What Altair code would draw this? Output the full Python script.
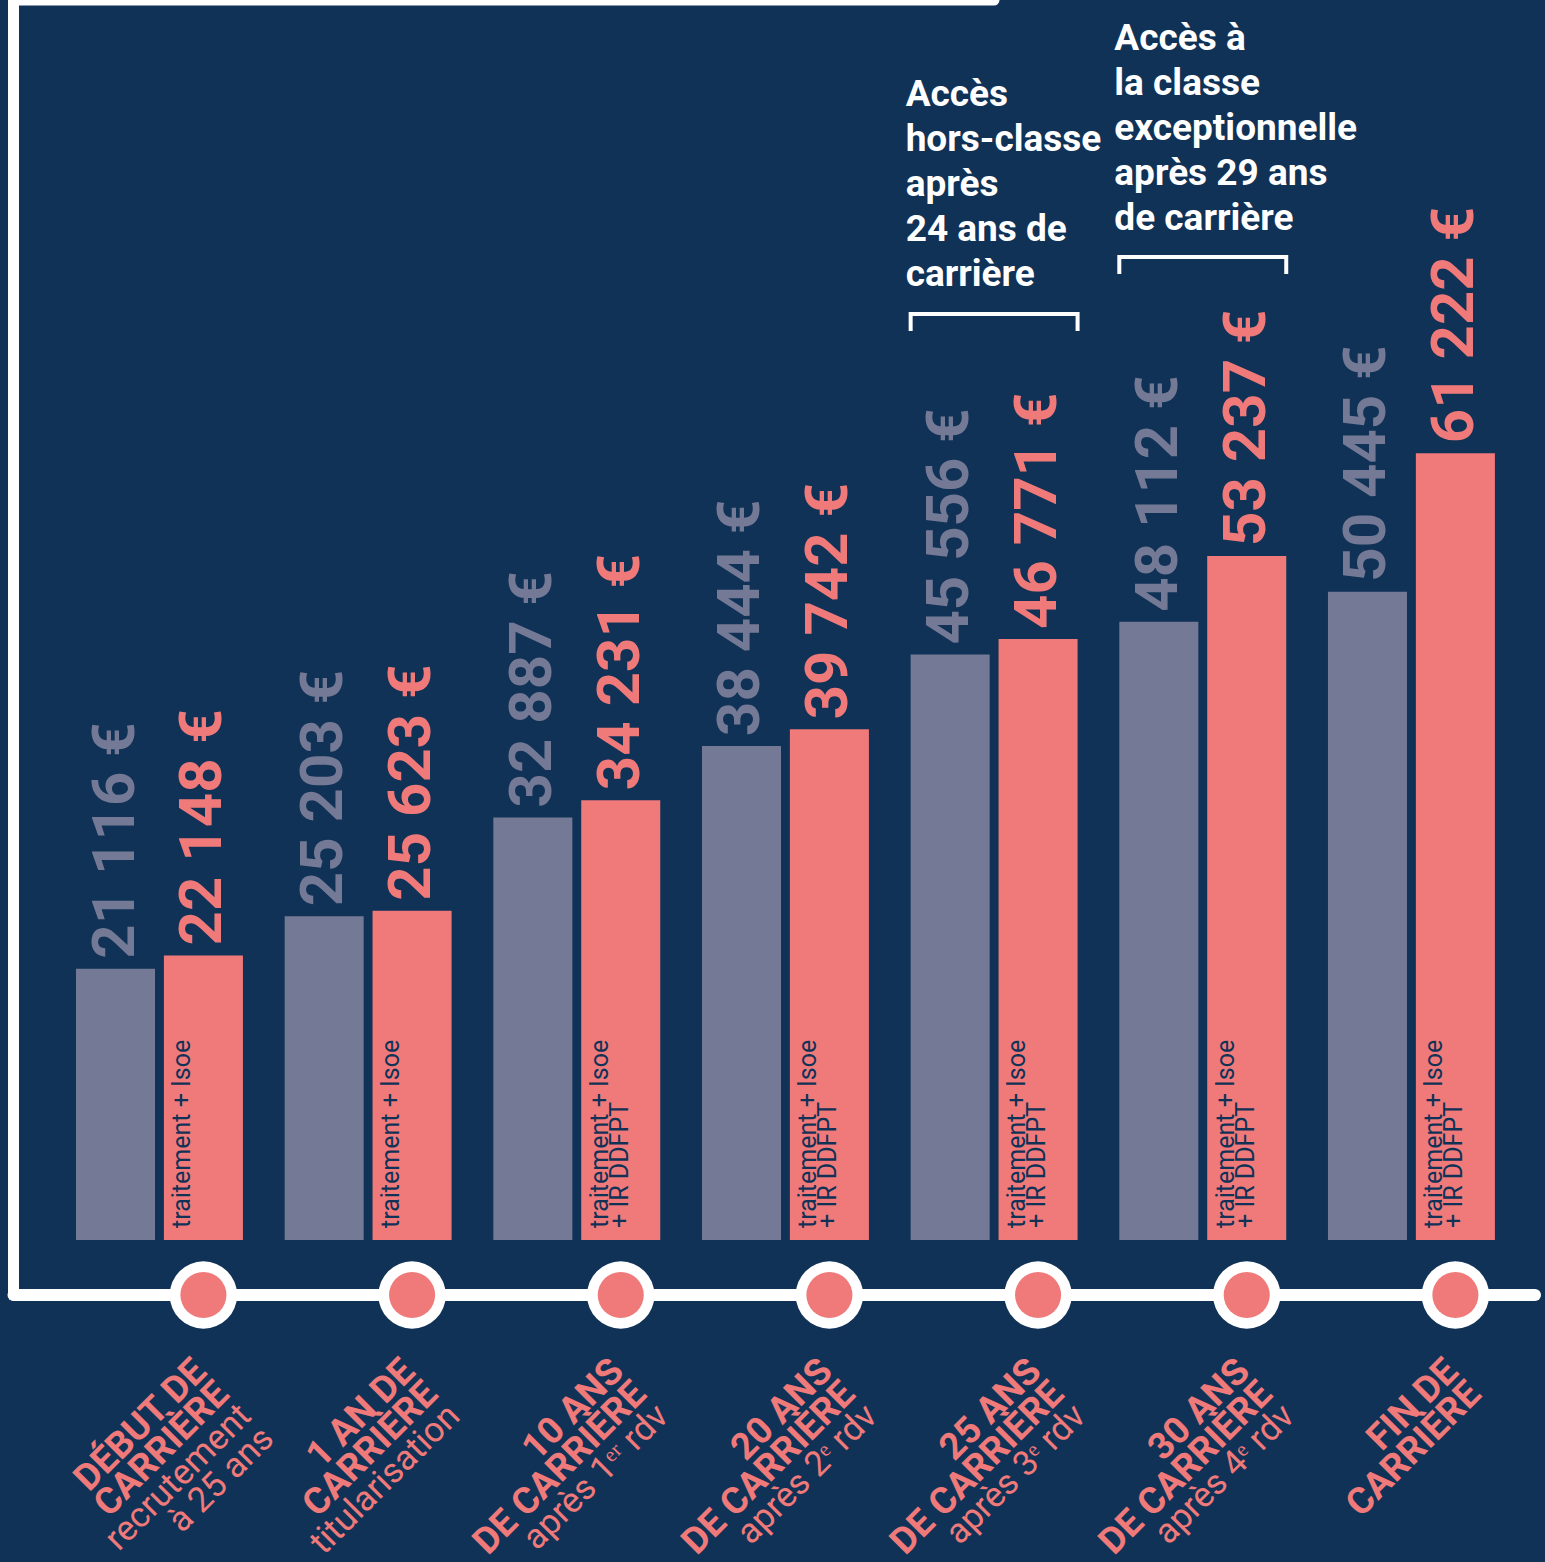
import altair as alt
import pandas as pd

# ---------------- data ----------------
stages = ["Début de carrière", "1 an de carrière", "10 ans", "20 ans",
          "25 ans", "30 ans", "Fin de carrière"]
series_names = ["traitement", "total"]
traitement = [21116, 25203, 32887, 38444, 45556, 48112, 50445]
total = [22148, 25623, 34231, 39742, 46771, 53237, 61222]

inner_labels = [
    ["traitement + Isoe"],
    ["traitement + Isoe"],
    ["traitement + Isoe", "+ IR DDFPT"],
    ["traitement + Isoe", "+ IR DDFPT"],
    ["traitement + Isoe", "+ IR DDFPT"],
    ["traitement + Isoe", "+ IR DDFPT"],
    ["traitement + Isoe", "+ IR DDFPT"],
]
stage_titles = [
    ["DÉBUT DE", "CARRIÈRE"],
    ["1 AN DE", "CARRIÈRE"],
    ["10 ANS", "DE CARRIÈRE"],
    ["20 ANS", "DE CARRIÈRE"],
    ["25 ANS", "DE CARRIÈRE"],
    ["30 ANS", "DE CARRIÈRE"],
    ["FIN DE", "CARRIÈRE"],
]
stage_subs = [
    ["recrutement", "à 25 ans"],
    ["titularisation"],
    ["après 1ᵉʳ rdv"],
    ["après 2ᵉ rdv"],
    ["après 3ᵉ rdv"],
    ["après 4ᵉ rdv"],
    [],
]
annot_stages = ["25 ans", "30 ans"]
annot_lines = [
    ["Accès", "hors-classe", "après", "24 ans de", "carrière"],
    ["Accès à", "la classe", "exceptionnelle", "après 29 ans", "de carrière"],
]

# ---------------- style ----------------
NAVY = "#103257"
GRAY = "#747995"
PINK = "#f07a7a"
WHITE = "#ffffff"
SANS = "Roboto"


def eur(v):
    return f"{v:,}".replace(",", " ") + " €"


rows = []
for i, s in enumerate(stages):
    rows.append({"stage": s, "series": "traitement", "value": traitement[i], "label": eur(traitement[i])})
    rows.append({"stage": s, "series": "total", "value": total[i], "label": eur(total[i])})
bars_df = pd.DataFrame(rows)

info_df = pd.DataFrame({
    "stage": stages,
    "series": ["total"] * len(stages),
    "inner": inner_labels,
    "title": stage_titles,
    "sub": stage_subs,
})

x_scale = alt.Scale(domain=stages, range=[76, 1494.9], paddingInner=0.2, paddingOuter=0)
xo_scale = alt.Scale(domain=series_names, paddingInner=0.101, paddingOuter=0)
y_scale = alt.Scale(domain=[0, 70000], range=[1240, 340.5], nice=False, zero=True)

X = alt.X("stage:N", scale=x_scale, sort=stages, axis=None)
XO = alt.XOffset("series:N", scale=xo_scale, sort=series_names)
Y = alt.Y("value:Q", scale=y_scale, axis=None)
COL = alt.Color("series:N", scale=alt.Scale(domain=series_names, range=[GRAY, PINK]), legend=None)

one = pd.DataFrame({"k": [0]})

frame_left = alt.Chart(one).mark_rule(color=WHITE, strokeWidth=11, strokeCap="round").encode(
    x=alt.value(13.5), y=alt.value(-10), y2=alt.value(1295))
frame_top = alt.Chart(one).mark_rule(color=WHITE, strokeWidth=11, strokeCap="round").encode(
    x=alt.value(13.5), x2=alt.value(994), y=alt.value(0))
frame_bottom = alt.Chart(one).mark_rule(color=WHITE, strokeWidth=12, strokeCap="round").encode(
    x=alt.value(13.5), x2=alt.value(1535), y=alt.value(1295))

bars = alt.Chart(bars_df).mark_bar().encode(x=X, xOffset=XO, y=Y, color=COL)

values = alt.Chart(bars_df).mark_text(
    angle=270, align="left", baseline="middle", dx=10,
    font=SANS, fontSize=60, fontWeight="bold"
).encode(x=X, xOffset=XO, y=Y, color=COL, text="label:N")

inner = alt.Chart(info_df).mark_text(
    angle=270, align="left", baseline="alphabetic", dx=12, dy=-13,
    font=SANS, fontSize=25, lineHeight=20, color=NAVY
).encode(x=X, xOffset=XO, y=alt.datum(0, scale=y_scale), text="inner")

circ_out = alt.Chart(info_df).mark_point(
    shape="circle", filled=True, size=4536, color=WHITE, opacity=1
).encode(x=X, xOffset=XO, y=alt.value(1295))
circ_in = alt.Chart(info_df).mark_point(
    shape="circle", filled=True, size=2124, color=PINK, opacity=1
).encode(x=X, xOffset=XO, y=alt.value(1295))

LH = 32
T_DX = -6
T_DY = -16
titles = alt.Chart(info_df).mark_text(
    angle=315, align="right", baseline="top", font=SANS, fontWeight="bold",
    fontSize=37, lineHeight=LH, color=PINK, dx=T_DX, dy=T_DY
).encode(x=X, xOffset=XO, y=alt.value(1360), text="title")
subs = alt.Chart(info_df).mark_text(
    angle=315, align="right", baseline="top", font=SANS, fontWeight="normal",
    fontSize=35, lineHeight=LH, color=PINK, dx=T_DX, dy=T_DY + 2 * LH
).encode(x=X, xOffset=XO, y=alt.value(1360), text="sub")

layers = [frame_left, frame_top, frame_bottom, bars, values, inner]

annot_y = [106, 50]
bracket_y = [312, 255]
for k in range(len(annot_stages)):
    adf = pd.DataFrame({"stage": [annot_stages[k]], "lines": [annot_lines[k]]})
    layers.append(alt.Chart(adf).mark_text(
        align="left", baseline="alphabetic", font=SANS, fontWeight="bold",
        fontSize=37, lineHeight=45, color=WHITE, dx=-5
    ).encode(x=alt.X("stage:N", scale=x_scale, sort=stages, axis=None, bandPosition=0),
             y=alt.value(annot_y[k]), text="lines"))
    layers.append(alt.Chart(adf).mark_bar(color=WHITE).encode(
        x=alt.X("stage:N", scale=x_scale, sort=stages, axis=None),
        y=alt.value(bracket_y[k]), y2=alt.value(bracket_y[k] + 4)))
    for bp in (0, 1):
        layers.append(alt.Chart(adf).mark_rule(color=WHITE, strokeWidth=4).encode(
            x=alt.X("stage:N", scale=x_scale, sort=stages, axis=None, bandPosition=bp),
            y=alt.value(bracket_y[k]), y2=alt.value(bracket_y[k] + 19)))

layers += [circ_out, circ_in, titles, subs]

chart = alt.layer(*layers).properties(
    width=1545, height=1562, background=NAVY, padding=0, autosize="none"
).configure_view(stroke=None)

chart.save("out.html", embed_options={"renderer": "svg", "actions": False})
